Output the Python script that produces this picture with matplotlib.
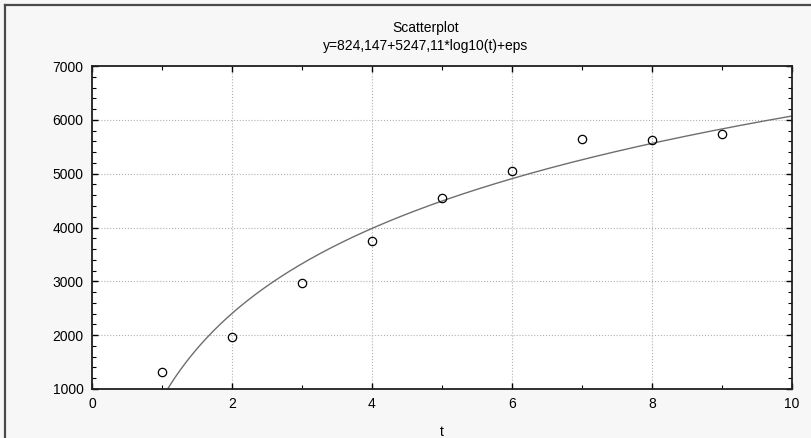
import numpy as np
import matplotlib.pyplot as plt
from matplotlib.lines import Line2D
from matplotlib.ticker import MultipleLocator

plt.rcParams['font.family'] = ['Liberation Sans', 'DejaVu Sans']

# observed points
t_obs = [1, 2, 3, 4, 5, 6, 7, 8, 9]
y_obs = [1310, 1960, 2960, 3750, 4540, 5050, 5650, 5620, 5740]

# fitted model y = a + b*log10(t)
a_fit = 824.147
b_fit = 5247.11

title = "Scatterplot"
subtitle = "y=824,147+5247,11*log10(t)+eps"

fig = plt.figure(figsize=(8.12, 4.38), dpi=100, facecolor='#f7f7f7')
ax = fig.add_axes([92 / 812, 1 - 389 / 438, 700 / 812, 323 / 438])
ax.set_facecolor('white')

tt = np.linspace(0.5, 10, 400)
ax.plot(tt, a_fit + b_fit * np.log10(tt), color='#6e6e6e', lw=1.0)
ax.plot(t_obs, y_obs, 'o', ms=6, mfc='none', mec='black', mew=0.9)

ax.set_xlim(0, 10)
ax.set_ylim(1000, 7000)
ax.xaxis.set_major_locator(MultipleLocator(2))
ax.xaxis.set_minor_locator(MultipleLocator(1))
ax.yaxis.set_major_locator(MultipleLocator(1000))
ax.yaxis.set_minor_locator(MultipleLocator(200))
ax.tick_params(which='both', direction='in', top=True, right=True,
               labelsize=10, color='black')
ax.tick_params(which='major', length=4, width=1, pad=6)
ax.tick_params(which='minor', length=3, width=0.8)
ax.grid(True, which='major', ls=':', color='#b0b0b0', lw=0.8)
for s in ax.spines.values():
    s.set_linewidth(1.3)
    s.set_color('#202020')

fig.text(426 / 812, 1 - 28 / 438, title, ha='center', va='center', fontsize=10)
fig.text(426 / 812, 1 - 46 / 438, subtitle, ha='center', va='center', fontsize=10)
ax.set_xlabel("t", fontsize=10, labelpad=10)

# window frame on top and left
fig.add_artist(Line2D([5 / 812, 1], [1 - 5 / 438, 1 - 5 / 438], color='#4a4a4a', lw=1.6))
fig.add_artist(Line2D([5 / 812, 5 / 812], [0, 1 - 5 / 438], color='#4a4a4a', lw=1.6))

fig.savefig("out.png", dpi=100, facecolor=fig.get_facecolor())
